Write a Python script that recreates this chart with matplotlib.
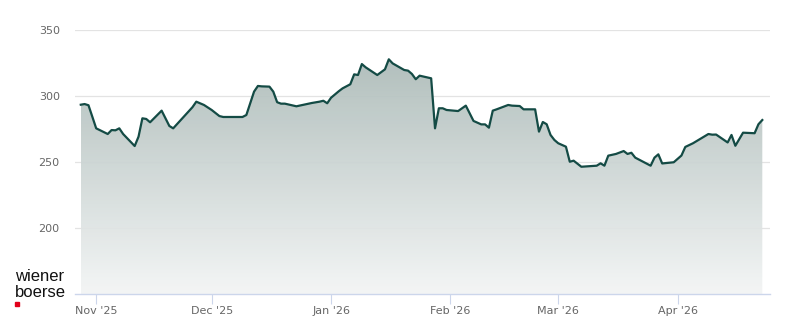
import datetime as dt
import numpy as np
import matplotlib
matplotlib.use("Agg")
import matplotlib.pyplot as plt
import matplotlib.dates as mdates
from matplotlib.colors import LinearSegmentedColormap

# ---- data ----
dates = [
    "2025-10-28", "2025-10-29", "2025-10-30", "2025-10-31", "2025-11-01", "2025-11-04",
    "2025-11-05", "2025-11-06", "2025-11-07", "2025-11-08", "2025-11-11", "2025-11-12",
    "2025-11-13", "2025-11-14", "2025-11-15", "2025-11-18", "2025-11-20", "2025-11-21",
    "2025-11-26", "2025-11-27", "2025-11-29", "2025-12-01", "2025-12-03", "2025-12-04",
    "2025-12-09", "2025-12-10", "2025-12-12", "2025-12-13", "2025-12-14", "2025-12-16",
    "2025-12-17", "2025-12-18", "2025-12-19", "2025-12-20", "2025-12-23", "2025-12-27",
    "2025-12-29", "2025-12-30", "2025-12-31", "2026-01-01", "2026-01-03", "2026-01-04",
    "2026-01-06", "2026-01-07", "2026-01-08", "2026-01-09", "2026-01-10", "2026-01-13",
    "2026-01-15", "2026-01-16", "2026-01-17", "2026-01-20", "2026-01-21", "2026-01-22",
    "2026-01-23", "2026-01-24", "2026-01-27", "2026-01-28", "2026-01-29", "2026-01-30",
    "2026-01-31", "2026-02-03", "2026-02-05", "2026-02-07", "2026-02-09", "2026-02-10",
    "2026-02-11", "2026-02-12", "2026-02-13", "2026-02-16", "2026-02-17", "2026-02-19",
    "2026-02-20", "2026-02-23", "2026-02-24", "2026-02-25", "2026-02-26", "2026-02-27",
    "2026-02-28", "2026-03-01", "2026-03-03", "2026-03-04", "2026-03-05", "2026-03-07",
    "2026-03-11", "2026-03-12", "2026-03-13", "2026-03-14", "2026-03-16", "2026-03-18",
    "2026-03-19", "2026-03-20", "2026-03-21", "2026-03-25", "2026-03-26", "2026-03-27",
    "2026-03-28", "2026-03-31", "2026-04-02", "2026-04-03", "2026-04-05", "2026-04-09",
    "2026-04-10", "2026-04-11", "2026-04-14", "2026-04-15", "2026-04-16", "2026-04-18",
    "2026-04-21", "2026-04-22", "2026-04-23",
]
prices = [
    293.4, 293.9, 293.0, 284.3, 275.5, 271.2,
    274.2, 274.0, 275.5, 271.2, 262.1, 269.2,
    283.1, 282.6, 280.1, 288.9, 277.3, 275.5,
    291.5, 295.7, 293.2, 289.4, 284.8, 284.1,
    284.1, 285.6, 303.3, 307.6, 307.3, 307.1,
    303.3, 295.3, 294.2, 294.2, 292.2, 294.7,
    295.7, 296.4, 294.5, 298.7, 303.6, 305.8,
    308.9, 316.4, 315.9, 324.2, 321.7, 315.9,
    320.2, 327.8, 324.7, 319.7, 319.2, 316.7,
    312.7, 315.4, 313.4, 275.5, 290.7, 290.7,
    289.4, 288.6, 292.7, 281.1, 278.5, 278.5,
    276.0, 288.9, 289.9, 293.2, 292.7, 292.4,
    289.9, 289.9, 273.0, 280.3, 278.6, 270.5,
    266.7, 264.2, 261.6, 250.2, 251.0, 246.4,
    247.2, 249.0, 247.2, 254.8, 256.1, 258.3,
    256.1, 257.0, 253.3, 247.2, 253.3, 255.8,
    248.9, 249.8, 254.9, 261.4, 264.2, 271.2,
    270.7, 270.8, 264.8, 270.5, 262.3, 272.2,
    271.8, 278.6, 281.8,
]
y_ticks = [200, 250, 300, 350]
x_tick_dates = ["2025-11-01", "2025-12-01", "2026-01-01", "2026-02-01", "2026-03-01", "2026-04-01"]
x_tick_labels = ["Nov '25", "Dec '25", "Jan '26", "Feb '26", "Mar '26", "Apr '26"]

# ---- figure ----
W, H = 800, 324
fig = plt.figure(figsize=(W / 100, H / 100), dpi=100)
ax = fig.add_axes([75 / W, 30 / H, (770 - 75) / W, (294 - 30) / H])

x = mdates.date2num([dt.datetime.strptime(d, "%Y-%m-%d") for d in dates])
y = np.array(prices)

ymin, ymax = 150, 350
xmin = mdates.date2num(dt.datetime(2025, 10, 26, 12))
xmax = mdates.date2num(dt.datetime(2026, 4, 25))
ax.set_xlim(xmin, xmax)
ax.set_ylim(ymin, ymax)

# gridlines (below the fill)
for t in y_ticks:
    ax.axhline(t, color="#e3e3e3", lw=0.9, zorder=0.5)

# gradient fill under the line
cmap = LinearSegmentedColormap.from_list("g", ["#f3f5f5", "#a4b4b1"])
grad = np.linspace(0, 1, 256).reshape(-1, 1)
poly = ax.fill_between(x, y, ymin, color="none", lw=0)
img = ax.imshow(grad, cmap=cmap, aspect="auto", origin="lower", alpha=0.93,
                extent=[x[0], x[-1], ymin, ymax], zorder=1)
img.set_clip_path(poly.get_paths()[0], transform=ax.transData)

ax.plot(x, y, color="#144b45", lw=1.6, zorder=3, solid_joinstyle="round")

# axes styling
for s in ["top", "right", "left"]:
    ax.spines[s].set_visible(False)
ax.spines["bottom"].set_color("#ccd6eb")
ax.spines["bottom"].set_linewidth(1.0)
ax.spines["bottom"].set_zorder(4)

ax.set_yticks(y_ticks)
ax.set_yticklabels([str(t) for t in y_ticks], color="#666666", fontsize=8)
ax.tick_params(axis="y", length=0, pad=11)

xt = mdates.date2num([dt.datetime.strptime(d, "%Y-%m-%d") for d in x_tick_dates])
ax.set_xticks(xt)
ax.set_xticklabels(x_tick_labels, color="#666666", fontsize=8)
ax.tick_params(axis="x", length=7, width=0.8, color="#ccd6eb", pad=2)

# logo
fig.text(15 / W, 1 - 281 / H, "wiener", fontsize=12, color="#111111",
         ha="left", va="baseline", family="Liberation Sans")
fig.text(15 / W, 1 - 297 / H, "boerse", fontsize=12, color="#111111",
         ha="left", va="baseline", family="Liberation Sans")
fig.patches.append(plt.Rectangle((15 / W, 1 - 305.5 / H), 4 / W, 4 / H,
                                 transform=fig.transFigure, color="#e2001a"))

fig.savefig("out.png", dpi=100)
